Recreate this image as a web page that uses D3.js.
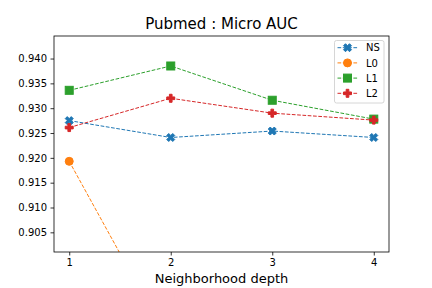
<!DOCTYPE html>
<html><head><meta charset="utf-8">
<script src="https://cdn.jsdelivr.net/npm/d3@7"></script>
<style>body{margin:0;background:#fff}svg{display:block;font-family:"DejaVu Sans",sans-serif}</style>
</head><body><svg id="c" width="432" height="288"></svg>
<script>
const depths = [1, 2, 3, 4];
const seriesNames = ["NS", "L0", "L1", "L2"];
const valuesNS = [0.9275, 0.9241, 0.9254, 0.9241];
const valuesL0 = [0.9193, 0.8822, 0.8700, 0.8600];
const valuesL1 = [0.9336, 0.9385, 0.9316, 0.9278];
const valuesL2 = [0.9261, 0.9320, 0.9290, 0.9276];
const yTicks = [0.905, 0.910, 0.915, 0.920, 0.925, 0.930, 0.935, 0.940];
const colors = ["#1f77b4", "#ff7f0e", "#2ca02c", "#d62728"];
const allValues = [valuesNS, valuesL0, valuesL1, valuesL2];

const svg = d3.select("#c");
const L = 54, T = 36, R = 389, B = 252;
const x = d3.scaleLinear().domain([0.85, 4.15]).range([L, R]);
const y = d3.scaleLinear().domain([0.90104, 0.94454]).range([B, T]);

svg.append("defs").append("clipPath").attr("id", "clip")
  .append("rect").attr("x", L).attr("y", T).attr("width", R - L).attr("height", B - T);

const ms = 8;
const plusPts = [[-1,-3],[-1,-1],[-3,-1],[-3,1],[-1,1],[-1,3],[1,3],[1,1],[3,1],[3,-1],[1,-1],[1,-3]].map(p => [p[0]/6*ms, p[1]/6*ms]);
const xPts = [[-1,-2],[0,-1],[1,-2],[2,-1],[1,0],[2,1],[1,2],[0,1],[-1,2],[-2,1],[-1,0],[-2,-1]].map(p => [p[0]/4*ms, p[1]/4*ms]);
const poly = pts => "M" + pts.map(p => p.join(",")).join("L") + "Z";
function marker(g, i, cx, cy) {
  const c = colors[i];
  let m;
  if (i === 0) m = g.append("path").attr("d", poly(xPts));
  else if (i === 1) m = g.append("circle").attr("r", ms / 2);
  else if (i === 2) m = g.append("rect").attr("x", -ms/2).attr("y", -ms/2).attr("width", ms).attr("height", ms);
  else m = g.append("path").attr("d", poly(plusPts));
  m.attr("transform", `translate(${cx},${cy})`).attr("fill", c).attr("stroke", c).attr("stroke-width", 1);
}

const plot = svg.append("g").attr("clip-path", "url(#clip)");
const line = d3.line().x((d, j) => x(depths[j])).y(d => y(d));
allValues.forEach((vals, i) => {
  plot.append("path").datum(vals).attr("d", line).attr("fill", "none")
    .attr("stroke", colors[i]).attr("stroke-width", 1).attr("stroke-dasharray", "3.7,1.6");
  vals.forEach((v, j) => marker(plot, i, x(depths[j]), y(v)));
});

svg.append("rect").attr("x", L).attr("y", T).attr("width", R - L).attr("height", B - T)
  .attr("fill", "none").attr("stroke", "#000").attr("stroke-width", 0.8);

const xAxis = svg.append("g").attr("transform", `translate(0,${B})`)
  .call(d3.axisBottom(x).tickValues(depths).tickFormat(d3.format("d")).tickSize(3.5).tickPadding(3.5));
const yAxis = svg.append("g").attr("transform", `translate(${L},0)`)
  .call(d3.axisLeft(y).tickValues(yTicks).tickFormat(d3.format(".3f")).tickSize(3.5).tickPadding(3.5));
[xAxis, yAxis].forEach(a => {
  a.select(".domain").remove();
  a.selectAll(".tick line").attr("stroke", "#000").attr("stroke-width", 0.8);
  a.selectAll(".tick text").attr("fill", "#000").attr("font-size", 10).attr("font-family", "DejaVu Sans");
});

svg.append("text").attr("x", (L + R) / 2).attr("y", 29).attr("text-anchor", "middle")
  .attr("font-size", 15).attr("fill", "#000").text("Pubmed : Micro AUC");
svg.append("text").attr("x", (L + R) / 2).attr("y", 283).attr("text-anchor", "middle")
  .attr("font-size", 13).attr("fill", "#000").text("Neighborhood depth");

const lg = svg.append("g");
lg.append("rect").attr("x", 334.5).attr("y", 40.5).attr("width", 49.5).attr("height", 62.5)
  .attr("rx", 2).attr("fill", "#fff").attr("fill-opacity", 0.8).attr("stroke", "#ccc").attr("stroke-width", 0.8);
seriesNames.forEach((name, i) => {
  const ly = 47.7 + i * 15.2;
  lg.append("line").attr("x1", 337.5).attr("x2", 357.5).attr("y1", ly).attr("y2", ly)
    .attr("stroke", colors[i]).attr("stroke-width", 1).attr("stroke-dasharray", "3.7,1.6");
  marker(lg, i, 347.5, ly);
  lg.append("text").attr("x", 366).attr("y", ly + 3.6).attr("font-size", 10).attr("fill", "#000").text(name);
});
</script></body></html>
